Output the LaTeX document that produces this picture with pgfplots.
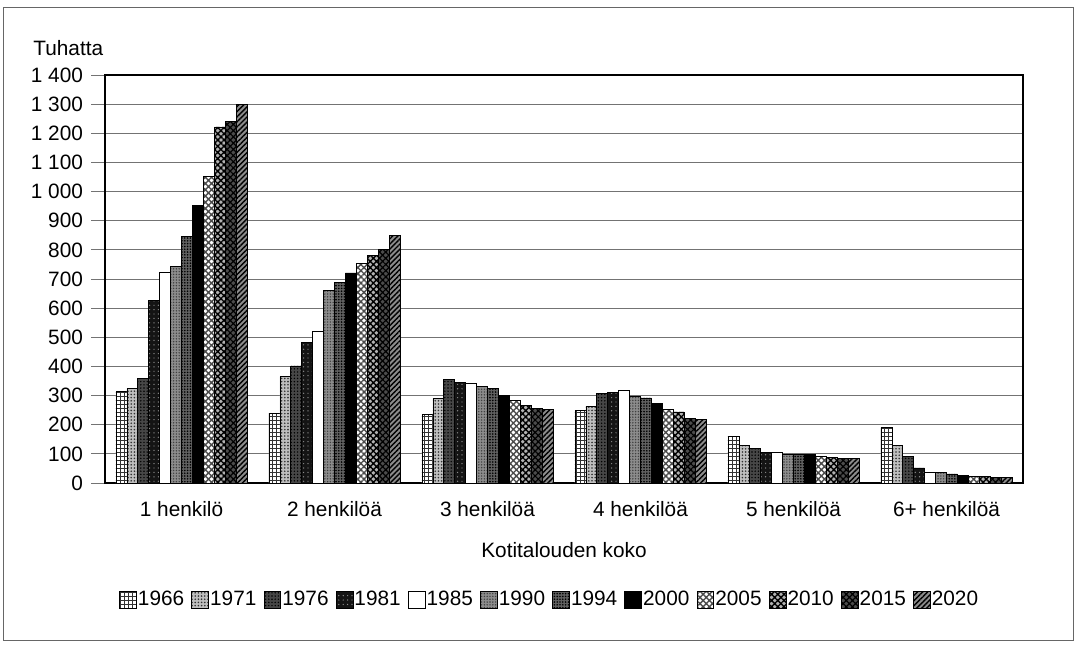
\documentclass[border=0pt]{standalone}
\usepackage{pgfplots}
\pgfplotsset{compat=1.18}
\usepackage{pgfplotstable}
\usetikzlibrary{patterns,patterns.meta}
\usepackage{fontspec}
\setmainfont{Liberation Sans}

\pgfplotstableread{
x  y1966 y1971 y1976 y1981 y1985 y1990 y1994 y2000 y2005 y2010 y2015 y2020
0  315   325   360   627   722   742   846   952   1052  1222  1240  1300
1  240   365   402   482   522   660   687   721   753   781   801   850
2  235   290   355   345   342   330   326   301   282   267   256   252
3  250   262   308   310   318   298   292   273   253   244   222   217
4  160   130   120   106   104   100   99    97    91    88    84    84
5  190   130   92    52    37    36    31    26    23    22    20    19
}\households

\begin{document}
\begin{tikzpicture}[font=\fontsize{10.4}{12}\selectfont]
\useasboundingbox (0,0) rectangle (537.5pt,322pt);
\draw[black!60, line width=0.5pt] (1.5pt,2pt) rectangle (536.5pt,318pt);
\node[anchor=west, inner sep=0pt] at (16.5pt,298pt) {Tuhatta};
\node at (282pt,47pt) {Kotitalouden koko};
\begin{axis}[
    at={(52.5pt,80.5pt)}, anchor=south west,
    scale only axis,
    width=459pt, height=204pt,
    ybar, bar width=5.46pt,
    xmin=-0.5, xmax=5.5,
    ymin=0, ymax=1400,
    ytick distance=100,
    xtick={0,1,2,3,4,5},
    xticklabels={1 henkilö, 2 henkilöä, 3 henkilöä, 4 henkilöä, 5 henkilöä, 6+ henkilöä},
    major x tick style={draw=none},
    xticklabel style={yshift=1.5pt},
    ytick pos=left,
    tick align=outside,
    major tick length=7pt,
    ytick style={black!55, line width=0.5pt},
    yticklabel style={xshift=-0.5pt},
    /pgf/number format/assume math mode=true,
    /pgf/number format/1000 sep={\ },
    ymajorgrids,
    grid style={black!55, line width=0.45pt},
    axis line style={black, line width=1.1pt},
    legend columns=12,
    legend style={at={(0.484,-0.287)}, anchor=center, draw=none,
        nodes={inner sep=0.6pt},
        /tikz/every even column/.append style={column sep=3pt}},
    legend image code/.code={\draw[#1] (0pt,-4.2pt) rectangle (8.4pt,4.2pt);},
    every axis plot/.append style={draw=black, line width=0.35pt},
]
\addplot[bar shift=-30.03pt, fill=white, postaction={pattern={Hatch[angle=0,distance=2pt,line width=0.3pt]}, pattern color=black!80}] table[x=x,y=y1966]{\households};
\addplot[bar shift=-24.57pt, fill=black!25, postaction={pattern={Dots[distance=1.6pt,radius=0.45pt]}, pattern color=black!80}] table[x=x,y=y1971]{\households};
\addplot[bar shift=-19.11pt, fill=black!72, postaction={pattern={Dots[distance=1.6pt,radius=0.4pt]}, pattern color=black}] table[x=x,y=y1976]{\households};
\addplot[bar shift=-13.65pt, fill=black!92, postaction={pattern={Dots[distance=2.2pt,radius=0.35pt]}, pattern color=black!45}] table[x=x,y=y1981]{\households};
\addplot[bar shift=-8.19pt, fill=white] table[x=x,y=y1985]{\households};
\addplot[bar shift=-2.73pt, fill=black!45, postaction={pattern={Dots[distance=1.4pt,radius=0.4pt]}, pattern color=black!75}] table[x=x,y=y1990]{\households};
\addplot[bar shift=2.73pt, fill=black!62, postaction={pattern={Dots[distance=1.4pt,radius=0.45pt]}, pattern color=black}] table[x=x,y=y1994]{\households};
\addplot[bar shift=8.19pt, fill=black] table[x=x,y=y2000]{\households};
\addplot[bar shift=13.65pt, fill=white, postaction={pattern={Hatch[angle=45,distance=2.2pt,line width=0.7pt]}, pattern color=black!70}] table[x=x,y=y2005]{\households};
\addplot[bar shift=19.11pt, fill=black!30, postaction={pattern={Hatch[angle=45,distance=2.2pt,line width=0.7pt]}, pattern color=black}] table[x=x,y=y2010]{\households};
\addplot[bar shift=24.57pt, fill=black!70, postaction={pattern={Hatch[angle=45,distance=2.2pt,line width=0.6pt]}, pattern color=black}] table[x=x,y=y2015]{\households};
\addplot[bar shift=30.03pt, fill=black!45, postaction={pattern={Lines[angle=45,distance=1.8pt,line width=0.7pt]}, pattern color=black}] table[x=x,y=y2020]{\households};
\legend{1966,1971,1976,1981,1985,1990,1994,2000,2005,2010,2015,2020}
\end{axis}
\end{tikzpicture}
\end{document}
